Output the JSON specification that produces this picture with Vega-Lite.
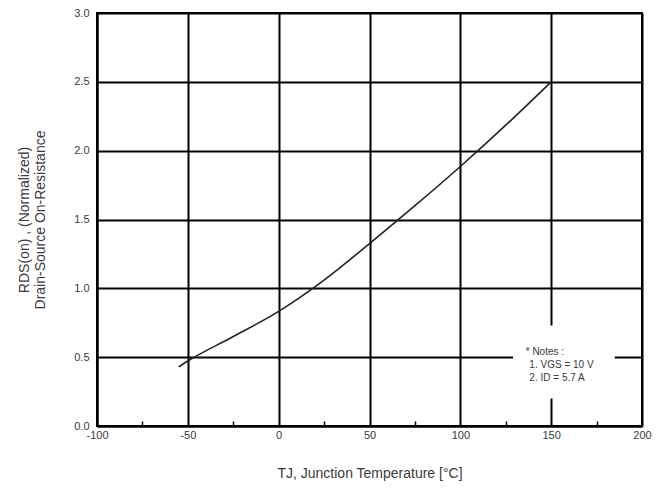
{
  "$schema": "https://vega.github.io/schema/vega-lite/v6.json",
  "width": 545,
  "height": 413,
  "autosize": "none",
  "padding": {"left": 97, "top": 13, "right": 19, "bottom": 77},
  "background": "white",
  "config": {
    "view": {"stroke": "black", "strokeWidth": 2},
    "font": "Liberation Sans, Arial, sans-serif",
    "axis": {
      "gridColor": "black",
      "gridWidth": 2,
      "domainColor": "black",
      "domainWidth": 2,
      "tickWidth": 1.5,
      "labelColor": "#3a3a3a",
      "labelFontSize": 11,
      "labelFont": "Liberation Sans, Arial, sans-serif",
      "titleFont": "Liberation Sans, Arial, sans-serif",
      "titleColor": "#3a3a3a",
      "titleFontWeight": "normal"
    }
  },
  "datasets": {
    "curve": [
      {"T": -55, "R": 0.43},
      {"T": -50, "R": 0.472},
      {"T": -25, "R": 0.65},
      {"T": 0, "R": 0.833},
      {"T": 25, "R": 1.06},
      {"T": 50, "R": 1.325},
      {"T": 75, "R": 1.6},
      {"T": 100, "R": 1.885},
      {"T": 125, "R": 2.185},
      {"T": 150, "R": 2.5}
    ],
    "box": [{"x1": 129, "x2": 185, "y1": 0.2, "y2": 0.73}],
    "notes": [
      {"T": 136, "R": 0.54, "txt": "* Notes :"},
      {"T": 138, "R": 0.445, "txt": "1. VGS = 10 V"},
      {"T": 138, "R": 0.35, "txt": "2. ID = 5.7 A"}
    ]
  },
  "layer": [
    {
      "data": {"name": "curve"},
      "mark": {"type": "line", "color": "#222", "strokeWidth": 1.6, "interpolate": "monotone"},
      "encoding": {
        "x": {
          "field": "T", "type": "quantitative",
          "scale": {"domain": [-100, 200], "nice": false, "zero": false},
          "axis": {
            "values": [-100, -75, -50, -25, 0, 25, 50, 75, 100, 125, 150, 175, 200],
            "labelExpr": "datum.value % 50 === 0 ? '' + datum.value : ''",
            "gridOpacity": {"condition": {"test": "datum.value % 50 === 0", "value": 1}, "value": 0},
            "tickColor": {"condition": {"test": "datum.value % 50 === 0", "value": "transparent"}, "value": "black"},
            "tickSize": -5,
            "labelPadding": 8,
            "labelFlush": false,
            "title": "TJ, Junction Temperature [°C]",
            "titleFontSize": 14,
            "titlePadding": 26
          }
        },
        "y": {
          "field": "R", "type": "quantitative",
          "scale": {"domain": [0, 3], "nice": false},
          "axis": {
            "values": [0, 0.25, 0.5, 0.75, 1, 1.25, 1.5, 1.75, 2, 2.25, 2.5, 2.75, 3],
            "labelExpr": "(datum.value * 4) % 2 === 0 ? format(datum.value, '.1f') : ''",
            "gridOpacity": {"condition": {"test": "(datum.value * 4) % 2 === 0", "value": 1}, "value": 0},
            "tickColor": {"condition": {"test": "(datum.value * 4) % 2 === 0", "value": "transparent"}, "value": "black"},
            "tickSize": -5,
            "labelPadding": 13,
            "title": ["RDS(on) , (Normalized)", "Drain-Source On-Resistance"],
            "titleFontSize": 14,
            "titleLineHeight": 16,
            "titlePadding": 26
          }
        }
      }
    },
    {
      "data": {"name": "box"},
      "mark": {"type": "rect", "color": "white"},
      "encoding": {
        "x": {"field": "x1", "type": "quantitative"},
        "x2": {"field": "x2"},
        "y": {"field": "y1", "type": "quantitative"},
        "y2": {"field": "y2"}
      }
    },
    {
      "data": {"name": "notes"},
      "mark": {"type": "text", "align": "left", "baseline": "middle", "fontSize": 10, "color": "#3a3a3a"},
      "encoding": {
        "x": {"field": "T", "type": "quantitative"},
        "y": {"field": "R", "type": "quantitative"},
        "text": {"field": "txt"}
      }
    }
  ]
}
